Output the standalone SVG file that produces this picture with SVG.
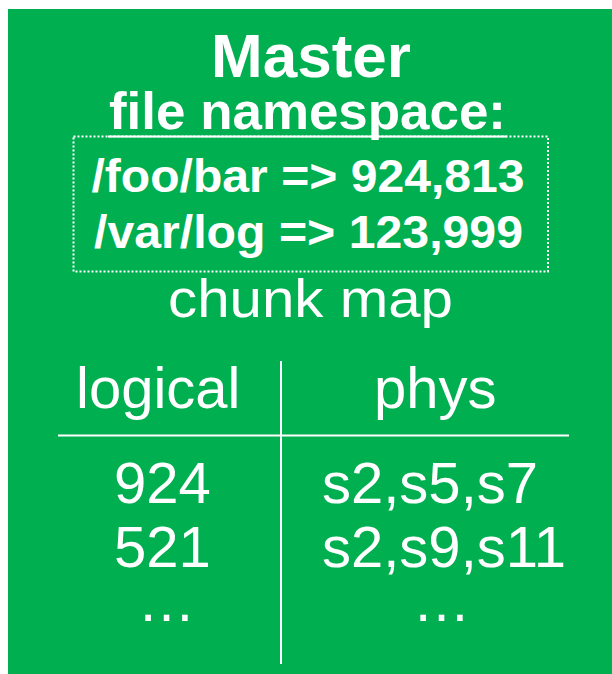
<svg xmlns="http://www.w3.org/2000/svg" width="612" height="674" viewBox="0 0 612 674">
<style>
.t{fill:#fff;font-family:"Liberation Sans",Arial,Helvetica,sans-serif}
.b{font-weight:bold}
.ln{stroke:#fff;stroke-width:2;fill:none}
</style>
<rect x="0" y="0" width="612" height="674" fill="#fff"/>
<g id="master">
<rect x="8" y="9" width="604" height="665" fill="#00AF50"/>
<text class="t b" x="311" y="77" font-size="62" text-anchor="middle">Master</text>
<text class="t b" x="109" y="129" font-size="52" textLength="397" lengthAdjust="spacingAndGlyphs">file namespace:</text>
<line class="ln" x1="108" y1="136.5" x2="507" y2="136.5" stroke-width="1.5"/>
</g>
<g id="namespace">
<rect x="73.5" y="136.5" width="474.5" height="135" fill="none" stroke="#fff" stroke-width="2" stroke-dasharray="2 2"/>
<text class="t b" x="91.5" y="191.5" font-size="46" textLength="433" lengthAdjust="spacingAndGlyphs">/foo/bar =&gt; 924,813</text>
<text class="t b" x="94" y="247.5" font-size="46" textLength="429" lengthAdjust="spacingAndGlyphs">/var/log =&gt; 123,999</text>
</g>
<g id="chunkmap">
<text class="t" x="168" y="317" font-size="54" textLength="285" lengthAdjust="spacingAndGlyphs">chunk map</text>
<text class="t" x="76" y="408" font-size="58">logical</text>
<text class="t" x="374" y="408" font-size="58">phys</text>
<text class="t" x="114" y="503" font-size="58">924</text>
<text class="t" x="114" y="567" font-size="58">521</text>
<text class="t" x="322" y="503" font-size="58">s2,s5,s7</text>
<text class="t" x="322" y="567" font-size="58">s2,s9,s11</text>
<text class="t" x="166.5" y="621" font-size="58" text-anchor="middle">…</text>
<text class="t" x="441.5" y="621" font-size="58" text-anchor="middle">…</text>
</g>
<g id="connectors">
<line class="ln" x1="58" y1="435.5" x2="569" y2="435.5"/>
<line class="ln" x1="281" y1="361" x2="281" y2="664"/>
</g>
</svg>
